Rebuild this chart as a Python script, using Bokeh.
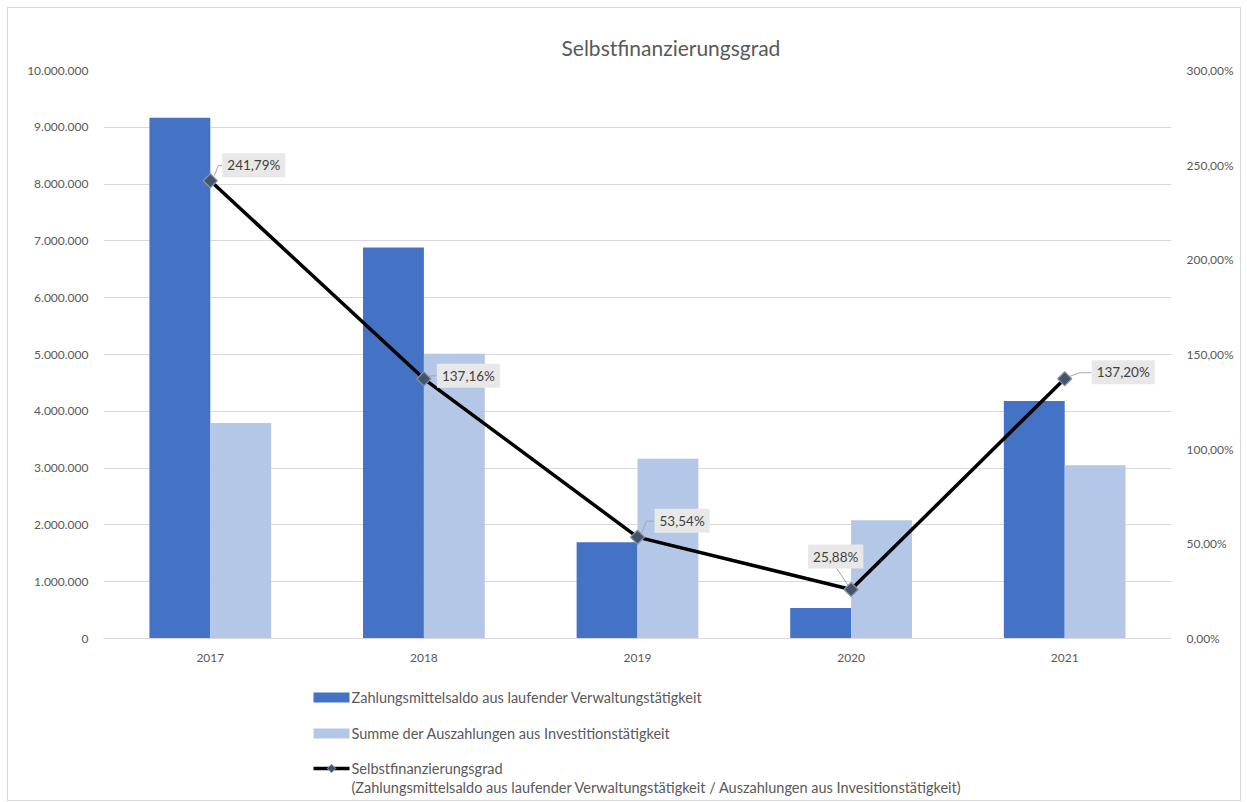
import math
from bokeh.plotting import figure
from bokeh.layouts import column
from bokeh.core.properties import value
from bokeh.models import (FactorRange, Range1d, LinearAxis, Label,
                          CustomJSTickFormatter, FixedTicker, ColumnDataSource)
from bokeh.transform import dodge
from bokeh.embed import file_html
from bokeh.resources import INLINE

# ---------------- data ----------------
years = ["2017", "2018", "2019", "2020", "2021"]
zahlungsmittelsaldo = [9170000, 6885000, 1694000, 538000, 4181000]
auszahlungen_invest = [3792000, 5015000, 3165000, 2080000, 3048000]
selbstfinanzierungsgrad = [241.79, 137.16, 53.54, 25.88, 137.20]
pct_labels = ["241,79%", "137,16%", "53,54%", "25,88%", "137,20%"]
left_ticks = [0, 1000000, 2000000, 3000000, 4000000, 5000000,
              6000000, 7000000, 8000000, 9000000, 10000000]
right_ticks = [0, 50, 100, 150, 200, 250, 300]

title_text = "Selbstfinanzierungsgrad"
legend_1 = "Zahlungsmittelsaldo aus laufender Verwaltungstätigkeit"
legend_2 = "Summe der Auszahlungen aus Investitionstätigkeit"
legend_3a = "Selbstfinanzierungsgrad"
legend_3b = "(Zahlungsmittelsaldo aus laufender Verwaltungstätigkeit / Auszahlungen aus Invesitionstätigkeit)"

# ---------------- style / layout ----------------
FONT = "Lato"
DARK = "#4472C4"
LIGHT = "#B4C7E7"
GRID = "#D9D9D9"
AXIS_TXT = "#595959"
LBL_TXT = "#404040"
MARK_FILL = "#44546A"
MARK_LINE = "#8A96A8"

W = 1232
H_MAIN = 680
H_LEG = 112
B_LEFT = 95
B_RIGHT = 69
FRAME_W = 1068.0
FRAME_H = 568.0
PX_X = 5.0 / FRAME_W          # category units per pixel
PX_PCT = 300.0 / FRAME_H      # percent units per pixel

# label box offsets (pixels) relative to the point
lbl_dx = [12, 13, 17, -43, 27]
lbl_dy = [15.5, 3, 16.5, 33, 6.5]
# leader lines in pixel offsets relative to point
leader_px = [
    [(4, 5), (8, 15), (12, 15)],
    [(4, 2), (8, 3), (13, 3)],
    [(4, 4), (9, 16), (17, 16)],
    [(-3, 4), (-15, 22)],
    [(4, 2), (15, 6), (27, 6)],
]

src = ColumnDataSource(dict(year=years, saldo=zahlungsmittelsaldo,
                            invest=auszahlungen_invest, pct=selbstfinanzierungsgrad))

p = figure(x_range=FactorRange(factors=years), y_range=Range1d(0, 10000000),
           width=W, height=H_MAIN, output_backend="svg", toolbar_location=None,
           min_border_left=B_LEFT, min_border_right=B_RIGHT, min_border_top=62,
           min_border_bottom=H_MAIN - 62 - int(FRAME_H))
p.extra_y_ranges = {"pct": Range1d(0, 300)}
p.outline_line_color = None
p.background_fill_color = "white"
p.border_fill_color = "white"

p.title.text = title_text
p.title.align = "left"
p.title.offset = 458
p.title.text_font = FONT
p.title.text_font_size = "21px"
p.title.text_font_style = "normal"
p.title.text_color = AXIS_TXT
p.title.standoff = 21

num_fmt = CustomJSTickFormatter(code="""
    return Math.round(tick).toString().replace(/\\B(?=(\\d{3})+(?!\\d))/g, ".");
""")
pct_fmt = CustomJSTickFormatter(code="""
    return tick.toFixed(2).replace('.', ',') + '%';
""")

ya = p.yaxis[0]
ya.ticker = FixedTicker(ticks=left_ticks)
ya.formatter = num_fmt
ra = LinearAxis(y_range_name="pct", ticker=FixedTicker(ticks=right_ticks), formatter=pct_fmt)
p.add_layout(ra, "right")

for ax in [ya, ra]:
    ax.axis_line_color = None
    ax.major_tick_line_color = None
    ax.minor_tick_line_color = None
    ax.major_tick_out = 0
    ax.major_tick_in = 0
    ax.minor_tick_out = 0
    ax.major_label_text_font = FONT
    ax.major_label_text_font_size = "12px"
    ax.major_label_text_color = AXIS_TXT
    ax.major_label_standoff = 15

xa = p.xaxis[0]
xa.axis_line_color = GRID
xa.major_tick_line_color = None
xa.minor_tick_line_color = None
xa.major_tick_out = 0
xa.major_tick_in = 0
xa.major_label_text_font = FONT
xa.major_label_text_font_size = "12px"
xa.major_label_text_color = AXIS_TXT
xa.major_label_standoff = 15

p.xgrid.grid_line_color = None
p.ygrid.ticker = FixedTicker(ticks=left_ticks)
p.ygrid.grid_line_color = GRID
p.ygrid.grid_line_width = 1

# bars
p.vbar(x=dodge("year", -0.1425, range=p.x_range), top="saldo", width=0.285,
       source=src, fill_color=DARK, line_color=None)
p.vbar(x=dodge("year", 0.1425, range=p.x_range), top="invest", width=0.285,
       source=src, fill_color=LIGHT, line_color=None)

# line
p.line(x="year", y="pct", source=src, y_range_name="pct", line_color="black",
       line_width=3.5)

# leader lines
xs, ys = [], []
for i, pts in enumerate(leader_px):
    xs.append([i + 0.5 + dx * PX_X for dx, dy in pts])
    ys.append([selbstfinanzierungsgrad[i] + dy * PX_PCT for dx, dy in pts])
p.multi_line(xs=xs, ys=ys, y_range_name="pct", line_color="#A6A6A6", line_width=1)

p.scatter(x="year", y="pct", source=src, y_range_name="pct", marker="square",
          angle=math.pi / 4, size=10, fill_color=MARK_FILL, line_color=MARK_LINE,
          line_width=1.2)

# data labels
for i, t in enumerate(pct_labels):
    p.add_layout(Label(x=i + 0.5, y=selbstfinanzierungsgrad[i], y_range_name="pct",
                       x_offset=lbl_dx[i], y_offset=lbl_dy[i], text=t,
                       text_align="left", text_baseline="middle",
                       text_font=FONT, text_font_size="13.5px", text_color=LBL_TXT,
                       background_fill_color="#E8E8E8",
                       padding=dict(left=5, right=5, top=4, bottom=4)))

# ---------------- legend panel (pixel space below the chart) ----------------
q = figure(width=W, height=H_LEG, x_range=Range1d(B_LEFT, W - B_RIGHT),
           y_range=Range1d(H_LEG, 0),
           output_backend="svg", toolbar_location=None, x_axis_type=None,
           y_axis_type=None, min_border_left=B_LEFT, min_border_right=B_RIGHT,
           min_border_top=0, min_border_bottom=0)
q.outline_line_color = None
q.grid.grid_line_color = None
q.background_fill_color = "white"
q.border_fill_color = "white"

LX = 305      # swatch left (figure pixels)
LW = 36       # swatch width
TX = 343      # text start
rows_y = [9, 45, 80]
q.quad(left=[LX, LX], right=[LX + LW, LX + LW],
       top=[rows_y[0] - 5, rows_y[1] - 5], bottom=[rows_y[0] + 5, rows_y[1] + 5],
       fill_color=[DARK, LIGHT], line_color=None)
q.segment(x0=[LX], y0=[rows_y[2]], x1=[LX + LW], y1=[rows_y[2]],
          line_color="black", line_width=3.5)
q.scatter(x=[LX + LW / 2], y=[rows_y[2]], marker="square", angle=math.pi / 4, size=6,
          fill_color=MARK_FILL, line_color=MARK_LINE, line_width=1)
q.text(x=[TX, TX, TX, TX], y=[rows_y[0], rows_y[1], rows_y[2], rows_y[2] + 19],
       text=[legend_1, legend_2, legend_3a, legend_3b],
       text_align="left", text_baseline="middle", text_font=value(FONT),
       text_font_size=value("14.5px"), text_color=AXIS_TXT)

layout = column(p, q, spacing=0)
layout.styles = {"border": "1px solid #D9D9D9", "margin-left": "7px", "margin-top": "7px"}

open("out.html", "w").write(file_html(layout, INLINE))
